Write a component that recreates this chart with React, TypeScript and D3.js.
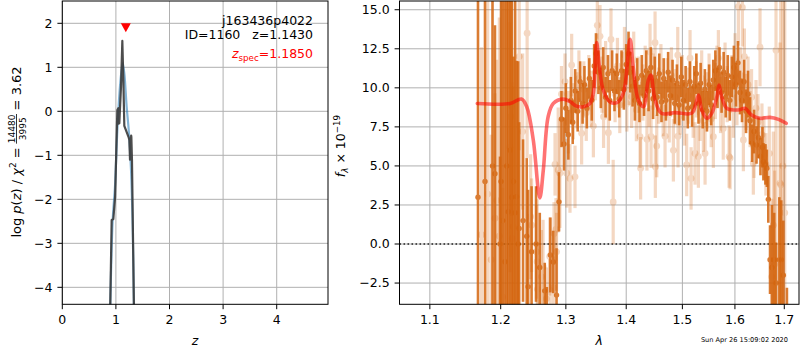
import React, { useLayoutEffect, useRef, useState } from "react";
import * as d3 from "d3";

const FONT = "'DejaVu Sans', 'Liberation Sans', sans-serif";
const FS = 12.5;

// ---------- left panel: p(z) ----------
const pzZ = [0.892, 0.921, 0.952, 0.985, 1.027, 1.045, 1.05, 1.064, 1.095, 1.12, 1.139, 1.157, 1.24, 1.251, 1.263, 1.285, 1.288, 1.3, 1.338];
const pzLogp = [-4.6, -2.47, -2.45, -1.95, 0.03, 0.07, -0.28, -0.27, 0.56, 1.6, 0.71, -0.33, -0.6, -0.65, -1.1, -0.55, -0.58, -1.12, -4.6];
const pzSmoothZ = [0.892, 0.94, 0.983, 1.027, 1.076, 1.126, 1.157, 1.201, 1.244, 1.282, 1.313, 1.338];
const pzSmoothLogp = [-4.6, -2.47, -1.71, -0.43, 0.56, 1.09, 0.86, 0.1, -0.5, -1.33, -2.62, -4.6];
const zTicks = [0, 1, 2, 3, 4];
const logpTicks = [-4, -3, -2, -1, 0, 1, 2];
const zSpec = 1.185;
const zSpecMarkerLogp = 1.9;
const objName = "j163436p4022";
const idLine = "ID=1160   z=1.1430";
const zSpecText = "=1.1850";

// ---------- right panel: spectrum ----------
const lamTicks = [1.1, 1.2, 1.3, 1.4, 1.5, 1.6, 1.7];
const fluxTicks = [-2.5, 0, 2.5, 5, 7.5, 10, 12.5, 15];

const modelLam = [1.166, 1.214, 1.231, 1.239, 1.249, 1.259, 1.2645, 1.272, 1.28, 1.296, 1.307, 1.317, 1.328, 1.339, 1.3445, 1.35, 1.3545, 1.361, 1.372, 1.384, 1.395, 1.4066, 1.412, 1.421, 1.43, 1.4386, 1.443, 1.4505, 1.462, 1.4865, 1.517, 1.5235, 1.53, 1.536, 1.546, 1.555, 1.565, 1.569, 1.574, 1.584, 1.6, 1.61, 1.62, 1.633, 1.65, 1.6705, 1.688, 1.704];
const modelFlux = [9.0, 9.0, 9.28, 8.79, 6.66, 2.95, 4.74, 8.15, 9.0, 9.28, 9.11, 8.83, 8.79, 9.0, 9.65, 12.9, 11.35, 9.86, 9.11, 9.05, 9.65, 13.1, 11.35, 9.22, 8.79, 10.5, 10.82, 9.22, 8.37, 8.41, 8.37, 8.79, 9.54, 8.58, 8.05, 8.37, 9.43, 10.18, 9.43, 8.69, 8.58, 8.6, 8.69, 8.26, 8.05, 8.11, 7.98, 7.73];

const darkLam = [
  1.167, 1.1771, 1.188, 1.1916, 1.199, 1.2005, 1.203, 1.2064, 1.209, 1.2113,
  1.214, 1.2165, 1.219, 1.2215, 1.2237, 1.226, 1.2275, 1.2334, 1.239, 1.2411,
  1.2464, 1.2532, 1.259, 1.2667, 1.2697, 1.2755, 1.2801, 1.2852, 1.2891,
  1.293, 1.297, 1.3, 1.304, 1.308, 1.311, 1.315, 1.319, 1.323, 1.327,
  1.33, 1.334, 1.338, 1.342, 1.346, 1.349, 1.353, 1.357, 1.361, 1.365,
  1.369, 1.372, 1.376, 1.38, 1.384, 1.388, 1.392, 1.396, 1.4, 1.404,
  1.407, 1.411, 1.415, 1.419, 1.423, 1.427, 1.431, 1.435, 1.439, 1.443,
  1.447, 1.45, 1.454, 1.458, 1.462, 1.466, 1.47, 1.474, 1.478, 1.482,
  1.486, 1.49, 1.494, 1.498, 1.502, 1.506, 1.51, 1.514, 1.518, 1.522,
  1.526, 1.53, 1.534, 1.538, 1.542, 1.546, 1.55, 1.554, 1.558, 1.562,
  1.566, 1.57, 1.574, 1.578, 1.582, 1.586, 1.59, 1.594, 1.598, 1.602,
  1.606, 1.61, 1.614, 1.618, 1.622, 1.626, 1.63, 1.634, 1.638, 1.643,
  1.647, 1.651, 1.655, 1.657, 1.661, 1.664, 1.667,
  1.6705, 1.6745, 1.679, 1.683, 1.6897, 1.6937, 1.698, 1.7055,
];
const darkFlux = [
  3.0, 4.0, 5.0, 4.5, 0.0, 4.0, 1.5, -1.13, 5.0, 2.07,
  6.0, 3.0, 4.0, 2.0, 3.03, 0.0, 1.0, 1.5, 0.5, -2.73,
  -0.5, 0.0, -1.5, -3.0, -4.0, -0.7, -1.15, -3.27, 2.7,
  8.0, 6.4, 8.7, 7.0, 9.2, 7.8, 9.8, 8.5, 10.4, 9.0,
  10.2, 8.7, 10.6, 9.2, 11.4, 12.2, 11.0, 10.0, 11.3, 9.4,
  10.9, 9.2, 11.1, 9.8, 10.9, 9.3, 11.1, 9.9, 11.5, 12.2,
  11.0, 10.1, 9.2, 10.6, 9.0, 10.8, 9.5, 11.1, 9.8, 11.3,
  9.3, 10.7, 9.4, 10.9, 9.1, 10.6, 9.2, 11.0, 9.5, 10.5,
  9.0, 10.3, 8.9, 10.7, 9.2, 10.2, 8.7, 10.4, 8.8, 10.1,
  10.9, 9.0, 10.3, 8.6, 9.9, 8.5, 10.2, 8.9, 10.5, 11.1,
  10.0, 11.3, 9.7, 11.0, 9.4, 10.8, 9.2, 10.7, 11.3, 10.2,
  11.6, 9.7, 9.2, 10.4, 8.5, 9.6, 7.9, 6.45, 7.2, 6.34,
  6.8, 5.6, 6.2, 5.27, 5.1, 4.85, 2.86,
  -1.0, -1.5, -1.0, -2.5, -1.0, -1.0, -2.0, -4.5,
];
const darkErr = [
  20, 20, 20, 9.5, 5.6, 20, 20, 17, 20, 14,
  20, 20, 8.0, 20, 8.7, 11.7, 6.8, 5.2, 5.0, 6.2,
  4.2, 3.7, 3.5, 1.8, 1.25, 2.4, 2.0, 3.0, 1.9,
  1.8, 1.7, 1.6, 1.6, 1.5, 1.4, 1.4, 1.3, 1.3, 1.3,
  1.2, 1.3, 1.3, 1.3, 1.4, 1.3, 1.4, 1.3, 1.3, 1.3,
  1.2, 1.3, 1.3, 1.3, 1.3, 1.2, 1.3, 1.3, 1.3, 1.4,
  1.3, 1.3, 1.3, 1.3, 1.2, 1.3, 1.3, 1.3, 1.3, 1.3,
  1.3, 1.3, 1.2, 1.3, 1.3, 1.3, 1.3, 1.3, 1.3, 1.3,
  1.3, 1.2, 1.3, 1.3, 1.3, 1.2, 1.3, 1.3, 1.3, 1.3,
  1.3, 1.3, 1.3, 1.2, 1.3, 1.3, 1.3, 1.3, 1.3, 1.3,
  1.3, 1.3, 1.3, 1.3, 1.3, 1.3, 1.3, 1.3, 1.4, 1.4,
  1.4, 1.4, 1.4, 1.4, 1.4, 1.5, 1.5, 1.2, 1.4, 1.2,
  1.3, 1.2, 1.3, 1.2, 1.3, 1.2, 1.5,
  2.2, 4.0, 3.0, 2.6, 4.0, 3.8, 3.5, 1.7,
];

const lightLam = [
  1.172, 1.181, 1.186, 1.1916, 1.1941, 1.198, 1.203, 1.2138, 1.2148, 1.2163,
  1.217, 1.2187, 1.2276, 1.2328, 1.2396, 1.2449, 1.2464, 1.254, 1.2549, 1.2555,
  1.2617, 1.2641, 1.2693, 1.2745, 1.275, 1.2801, 1.2812, 1.2828, 1.2843, 1.2852,
  1.2878, 1.2905,
  1.293, 1.2986, 1.3013, 1.304, 1.3066, 1.3093, 1.312, 1.3147, 1.318, 1.321,
  1.3254, 1.329, 1.333, 1.337, 1.341, 1.3447, 1.348, 1.3512, 1.3557, 1.359,
  1.3616, 1.365, 1.3697, 1.3741, 1.3778, 1.381, 1.385, 1.389, 1.393, 1.397,
  1.401, 1.405, 1.4093, 1.413, 1.4176, 1.421, 1.424, 1.425, 1.429, 1.433,
  1.4361, 1.44, 1.4416, 1.4434, 1.447, 1.4505, 1.451, 1.4535, 1.457, 1.461,
  1.465, 1.4684, 1.472, 1.476, 1.48, 1.4835, 1.487, 1.4915, 1.492, 1.496,
  1.5, 1.504, 1.5079, 1.511, 1.5142, 1.5161, 1.52, 1.5235, 1.526, 1.5298,
  1.533, 1.536, 1.5392, 1.5424, 1.546, 1.55, 1.554, 1.5582, 1.562, 1.565,
  1.5678, 1.572, 1.5772, 1.5807, 1.585, 1.5885, 1.5905, 1.594, 1.597, 1.6002,
  1.604, 1.6068, 1.611, 1.6147, 1.6167, 1.6187, 1.622, 1.626, 1.63, 1.633,
  1.6366, 1.638, 1.642, 1.646, 1.6501, 1.654, 1.658, 1.662, 1.669,
  1.674, 1.6773, 1.68, 1.6828, 1.6911, 1.6926, 1.697, 1.701,
];
const lightFlux = [
  0.6, 3.2, -1.0, 1.65, 2.8, 0.5, -3.4, 6.2, 8.15, 8.8,
  0.36, 1.1, 12.0, 7.2, 13.5, 1.75, 1.2, -0.5, -1.13, -2.9,
  -2.1, -1.45, -3.5, -0.8, -2.95, -2.8, 0.68, 5.1, 0.94, -0.5,
  4.74, 4.53,
  9.6, 10.4, 4.53, 7.8, 4.2, 11.46, 8.5, 4.3, 9.2, 10.6,
  7.09, 9.9, 8.4, 10.3, 9.3, 7.55, 11.0, 14.0, 13.3, 10.2,
  8.15, 11.2, 7.13, 13.1, 2.69, 9.6, 11.4, 8.9, 10.5, 12.1,
  9.0, 10.7, 9.43, 11.8, 8.58, 10.2, 6.87, 4.85, 9.7, 10.9,
  6.7, 9.3, 12.3, 6.87, 10.4, 12.89, 4.95, 6.27, 9.5, 11.0,
  8.7, 6.9, 10.1, 8.3, 10.8, 6.0, 9.4, 12.1, 6.9, 8.8,
  10.3, 8.1, 5.06, 9.5, 11.9, 4.2, 8.6, 5.8, 9.9, 5.6,
  8.4, 10.6, 7.9, 5.8, 9.2, 10.4, 8.0, 6.87, 9.8, 10.9,
  11.9, 8.9, 7.4, 11.1, 9.6, 5.6, 5.5, 10.3, 8.6, 11.7,
  9.4, 15.2, 10.8, 15.15, 6.66, 12.0, 9.1, 10.2, 8.0, 9.4,
  5.16, 6.23, 8.7, 7.8, 12.6, 7.0, 6.2, 5.1, 5.8,
  -2.1, 1.2, -1.3, 12.4, 3.9, 3.8, 5.0, 2.0,
];
const lightErr = [
  12, 15, 8, 8, 9, 14, 7, 8, 9, 7,
  10, 9, 6, 5, 8, 4, 3, 3, 4, 3,
  3, 3, 2, 2.5, 2, 2, 2, 2, 2, 2.5,
  4, 3.5,
  1.8, 1.8, 2.2, 2.0, 2.2, 2.0, 1.8, 2.0, 1.8, 1.8,
  2.0, 1.8, 1.8, 1.8, 1.8, 2.0, 1.8, 2.2, 2.0, 1.8,
  2.0, 1.8, 2.0, 2.0, 2.7, 1.8, 1.8, 1.8, 1.8, 1.8,
  1.8, 1.8, 2.0, 1.8, 2.0, 1.8, 2.0, 2.0, 1.8, 1.8,
  2.0, 1.8, 1.8, 2.0, 1.8, 2.0, 2.0, 2.0, 1.8, 1.8,
  1.8, 2.0, 1.8, 1.8, 1.8, 2.0, 1.8, 1.8, 2.0, 1.8,
  1.8, 1.8, 2.0, 1.8, 1.8, 2.0, 1.8, 2.0, 1.8, 2.0,
  1.8, 1.8, 2.0, 2.0, 1.8, 1.8, 1.8, 2.0, 1.8, 1.8,
  1.8, 1.8, 2.0, 1.8, 1.8, 2.0, 2.0, 1.8, 1.8, 1.8,
  1.8, 2.5, 1.8, 2.5, 2.0, 1.8, 1.8, 1.8, 1.8, 1.8,
  2.0, 2.0, 1.8, 1.8, 2.5, 2.0, 2.0, 2.0, 3.0,
  5, 6, 6, 20, 9, 12, 20, 16,
];

const timestamp = "Sun Apr 26 15:09:02 2020";

const ORANGE = "#d4650f";
const GRID = "#b0b0b0";

const fmtMinus = (s: string) => s.replace(/-/g, "\u2212");

export default function App() {
  const L = { x0: 62.3, x1: 328, y0: 1, y1: 304.3 };
  const R = { x0: 399.5, x1: 799, y0: 1, y1: 304.3 };
  const xL = d3.scaleLinear().domain([0, 4.957]).range([L.x0, L.x1]);
  const yL = d3.scaleLinear().domain([-4.386, 2.507]).range([L.y1, L.y0]);
  const xR = d3.scaleLog().domain([1.05975, 1.731]).range([R.x0, R.x1]);
  const yR = d3.scaleLinear().domain([-3.86, 15.56]).range([R.y1, R.y0]);

  const pzLine = d3
    .line<number>()
    .x((_, i) => xL(pzZ[i]))
    .y((_, i) => yL(pzLogp[i]));
  const pzSmoothLine = d3
    .line<number>()
    .x((_, i) => xL(pzSmoothZ[i]))
    .y((_, i) => yL(pzSmoothLogp[i]))
    .curve(d3.curveCatmullRom);
  const modelLine = d3
    .line<number>()
    .x((_, i) => xR(modelLam[i]))
    .y((_, i) => yR(modelFlux[i]))
    .curve(d3.curveCatmullRom.alpha(0.5));

  const numRef = useRef<SVGTSpanElement>(null);
  const [bar, setBar] = useState<{ x1: number; x2: number } | null>(null);
  useLayoutEffect(() => {
    const el = numRef.current as any;
    if (!el) return;
    try {
      const n = el.getNumberOfChars();
      const s = el.getStartPositionOfChar(0);
      const e = el.getEndPositionOfChar(n - 1);
      setBar({ x1: s.x - 0.5, x2: e.x + 0.5 });
    } catch (err) {
      /* ignore */
    }
  }, []);

  const tickLen = 4.9;
  const tickPad = 4.9;

  const zm = xL(zSpec);
  const ym = yL(zSpecMarkerLogp);

  return (
    <svg
      width={800}
      height={350}
      style={{ position: "absolute", left: 0, top: 0, display: "block", fontFamily: FONT }}
      fontFamily={FONT}
    >
      <defs>
        <clipPath id="clipL">
          <rect x={L.x0} y={L.y0} width={L.x1 - L.x0} height={L.y1 - L.y0} />
        </clipPath>
        <clipPath id="clipR">
          <rect x={R.x0} y={R.y0} width={R.x1 - R.x0} height={R.y1 - R.y0} />
        </clipPath>
      </defs>
      <rect x={0} y={0} width={800} height={350} fill="white" />

      {/* ---------------- LEFT PANEL ---------------- */}
      <g>
        {zTicks.map((t) => (
          <line key={"gzx" + t} x1={xL(t)} x2={xL(t)} y1={L.y0} y2={L.y1} stroke={GRID} strokeWidth={1} />
        ))}
        {logpTicks.map((t) => (
          <line key={"gzy" + t} x1={L.x0} x2={L.x1} y1={yL(t)} y2={yL(t)} stroke={GRID} strokeWidth={1} />
        ))}
        <g clipPath="url(#clipL)">
          <path d={pzSmoothLine(pzSmoothZ) || ""} fill="none" stroke="#1f77b4" strokeWidth={2.2} strokeOpacity={0.55} />
          <path d={pzLine(pzZ) || ""} fill="none" stroke="#3a3a3a" strokeWidth={2.2} strokeOpacity={0.9} strokeLinejoin="round" />
        </g>
        <path d={`M${zm - 5},${ym - 4.5} L${zm + 5},${ym - 4.5} L${zm},${ym + 4.5} Z`} fill="red" />
        <rect x={L.x0} y={L.y0} width={L.x1 - L.x0} height={L.y1 - L.y0} fill="none" stroke="black" strokeWidth={1} />
        {zTicks.map((t) => (
          <g key={"tzx" + t}>
            <line x1={xL(t)} x2={xL(t)} y1={L.y1} y2={L.y1 + tickLen} stroke="black" strokeWidth={1} />
            <text x={xL(t)} y={L.y1 + tickLen + tickPad} dy="0.76em" textAnchor="middle" fontSize={FS}>
              {String(t)}
            </text>
          </g>
        ))}
        {logpTicks.map((t) => (
          <g key={"tzy" + t}>
            <line x1={L.x0 - tickLen} x2={L.x0} y1={yL(t)} y2={yL(t)} stroke="black" strokeWidth={1} />
            <text x={L.x0 - tickLen - tickPad} y={yL(t)} dy="0.35em" textAnchor="end" fontSize={FS}>
              {fmtMinus(String(t))}
            </text>
          </g>
        ))}
        <text x={(L.x0 + L.x1) / 2} y={345} textAnchor="middle" fontSize={FS} fontStyle="italic">
          z
        </text>
        <text x={313} y={24.5} textAnchor="end" fontSize={FS}>
          {objName}
        </text>
        <text x={313} y={39} textAnchor="end" fontSize={FS} style={{ whiteSpace: "pre" }} xmlSpace="preserve">
          {idLine}
        </text>
        <text x={313} y={58} textAnchor="end" fontSize={FS} fill="red">
          <tspan fontStyle="italic">z</tspan>
          <tspan fontSize={FS * 0.7} dy={2.5}>
            spec
          </tspan>
          <tspan dy={-2.5}>{zSpecText}</tspan>
        </text>
        <g transform="translate(20.5,152) rotate(-90)">
          <text x={0} y={0} textAnchor="middle" fontSize={13}>
            <tspan>log </tspan>
            <tspan fontStyle="italic">p</tspan>
            <tspan>(</tspan>
            <tspan fontStyle="italic">z</tspan>
            <tspan>) / </tspan>
            <tspan fontStyle="italic">χ</tspan>
            <tspan fontSize={9} dy={-5}>
              2
            </tspan>
            <tspan dy={5}> = </tspan>
            <tspan ref={numRef} fontSize={9} dy={-5.8}>
              14480
            </tspan>
            <tspan fontSize={9} dx={-9 * 0.636 * 4.5} dy={10.8}>
              3995
            </tspan>
            <tspan dx={9 * 0.636 * 0.5} dy={-5}>
              {" = 3.62"}
            </tspan>
          </text>
          {bar && <line x1={bar.x1} x2={bar.x2} y1={-4} y2={-4} stroke="black" strokeWidth={0.8} />}
        </g>
      </g>

      {/* ---------------- RIGHT PANEL ---------------- */}
      <g>
        {lamTicks.map((t) => (
          <line key={"glx" + t} x1={xR(t)} x2={xR(t)} y1={R.y0} y2={R.y1} stroke={GRID} strokeWidth={1} />
        ))}
        {fluxTicks.map((t) => (
          <line key={"gly" + t} x1={R.x0} x2={R.x1} y1={yR(t)} y2={yR(t)} stroke={GRID} strokeWidth={1} />
        ))}
        <g clipPath="url(#clipR)">
          <line x1={R.x0} x2={R.x1} y1={yR(0)} y2={yR(0)} stroke="#222" strokeWidth={1.6} strokeDasharray="1.6,2.4" />
          {lightLam.map((l, i) => (
            <g key={"lb" + i} opacity={0.25}>
              <line
                x1={xR(l)}
                x2={xR(l)}
                y1={yR(lightFlux[i] - lightErr[i])}
                y2={yR(lightFlux[i] + lightErr[i])}
                stroke={ORANGE}
                strokeWidth={3.2}
              />
              <circle cx={xR(l)} cy={yR(lightFlux[i])} r={3.4} fill={ORANGE} />
            </g>
          ))}
          {darkLam.map((l, i) => (
            <g key={"db" + i} opacity={0.85}>
              <line
                x1={xR(l)}
                x2={xR(l)}
                y1={yR(darkFlux[i] - darkErr[i])}
                y2={yR(darkFlux[i] + darkErr[i])}
                stroke={ORANGE}
                strokeWidth={2.6}
              />
              <circle cx={xR(l)} cy={yR(darkFlux[i])} r={2.7} fill={ORANGE} />
            </g>
          ))}
          <path d={modelLine(modelLam) || ""} fill="none" stroke="red" strokeWidth={3.6} strokeOpacity={0.55} strokeLinecap="round" />
        </g>
        <rect x={R.x0} y={R.y0} width={R.x1 - R.x0} height={R.y1 - R.y0} fill="none" stroke="black" strokeWidth={1} />
        {lamTicks.map((t) => (
          <g key={"tlx" + t}>
            <line x1={xR(t)} x2={xR(t)} y1={R.y1} y2={R.y1 + tickLen} stroke="black" strokeWidth={1} />
            <text x={xR(t)} y={R.y1 + tickLen + tickPad} dy="0.76em" textAnchor="middle" fontSize={FS}>
              {d3.format(".1f")(t)}
            </text>
          </g>
        ))}
        {fluxTicks.map((t) => (
          <g key={"tly" + t}>
            <line x1={R.x0 - tickLen} x2={R.x0} y1={yR(t)} y2={yR(t)} stroke="black" strokeWidth={1} />
            <text x={R.x0 - tickLen - tickPad} y={yR(t)} dy="0.35em" textAnchor="end" fontSize={FS}>
              {fmtMinus(d3.format(".1f")(t))}
            </text>
          </g>
        ))}
        <text x={(R.x0 + R.x1) / 2} y={345} textAnchor="middle" fontSize={FS} fontStyle="italic">
          λ
        </text>
        <g transform="translate(345,146) rotate(-90)">
          <text x={0} y={0} textAnchor="middle" fontSize={FS}>
            <tspan fontStyle="italic">f</tspan>
            <tspan fontSize={FS * 0.7} fontStyle="italic" dy={2.5}>
              λ
            </tspan>
            <tspan dy={-2.5}> × 10</tspan>
            <tspan fontSize={FS * 0.7} dy={-5}>
              −19
            </tspan>
          </text>
        </g>
        <text x={788} y={342} textAnchor="end" fontSize={6.6}>
          {timestamp}
        </text>
      </g>
    </svg>
  );
}
